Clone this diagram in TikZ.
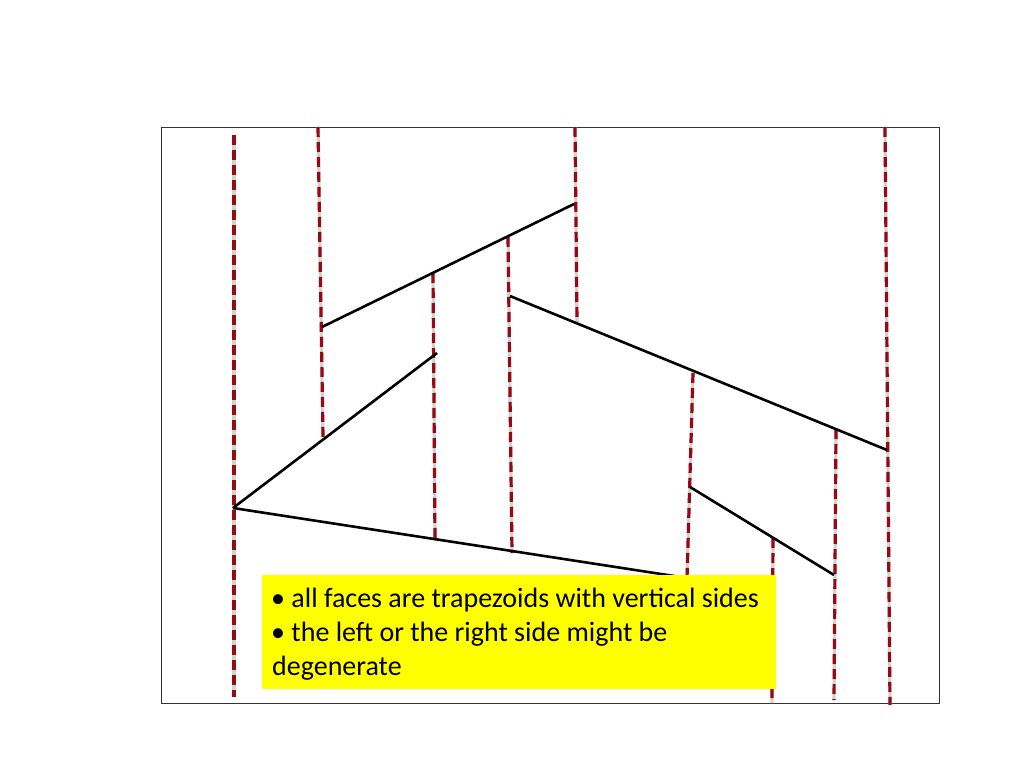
\documentclass[tikz,border=0pt]{standalone}
\usepackage{fontspec}
\setmainfont{Carlito}
\definecolor{yel}{RGB}{255,255,0}
\definecolor{dred}{RGB}{150,10,20}
\begin{document}
\begin{tikzpicture}[x=1pt,y=-1pt,
  seg/.style={line width=2.6pt,black},
  vgrey/.style={line width=3.2pt,gray!35},
  vred/.style={line width=3.2pt,dred,dash pattern=on 10pt off 5pt},
  frame/.style={line width=0.8pt,black!80},
  txt/.style={anchor=base west,inner sep=0pt,font=\fontsize{28}{33}\selectfont}]
\useasboundingbox (0,0) rectangle (1024,768);
\node[frame,draw,minimum width=778pt,minimum height=576pt,anchor=north west,inner sep=0pt] (fr) at (161,127) {};
% endpoints
\coordinate (a1) at (322,327); \coordinate (a2) at (574,204);
\coordinate (b0) at (233,508); \coordinate (b1) at (437,353);
\coordinate (c1) at (687,578);
\coordinate (d0) at (510,296); \coordinate (d1) at (887,450);
\coordinate (e0) at (690,487); \coordinate (e1) at (834,575);
% vertical line ends
\coordinate (v1t) at (234,135); \coordinate (v1b) at (234,697);
\coordinate (v2t) at (318,127); \coordinate (v2b) at (323,437);
\coordinate (v3t) at (575,127); \coordinate (v3b) at (577,322);
\coordinate (v4t) at (885,127); \coordinate (v4b) at (890,705);
\coordinate (v5t) at (433,273); \coordinate (v5b) at (435,540);
\coordinate (v6t) at (508,237); \coordinate (v6b) at (512,553);
\coordinate (v7t) at (693,373); \coordinate (v7b) at (687,578);
\coordinate (v8t) at (773,538); \coordinate (v8b) at (772,703);
\coordinate (v9t) at (836,429); \coordinate (v9b) at (834,700);
\foreach \i in {1,...,9}{
  \draw[vgrey] (v\i t) -- (v\i b);
  \draw[vred] (v\i t) -- (v\i b);
}
\draw[seg] (a1) -- (a2);
\draw[seg] (b0) -- (b1);
\draw[seg] (b0) -- (c1);
\draw[seg] (d0) -- (d1);
\draw[seg] (e0) -- (e1);
\node[fill=yel,minimum width=514pt,minimum height=114pt,anchor=north west,inner sep=0pt] (box) at (262,575) {};
\node[txt] (t1) at (271,607) {\textbullet\ all faces are trapezoids with vertical sides};
\node[txt] (t2) at (271,641) {\textbullet\ the left or the right side might be};
\node[txt] (t3) at (272,675) {degenerate};
\end{tikzpicture}
\end{document}
